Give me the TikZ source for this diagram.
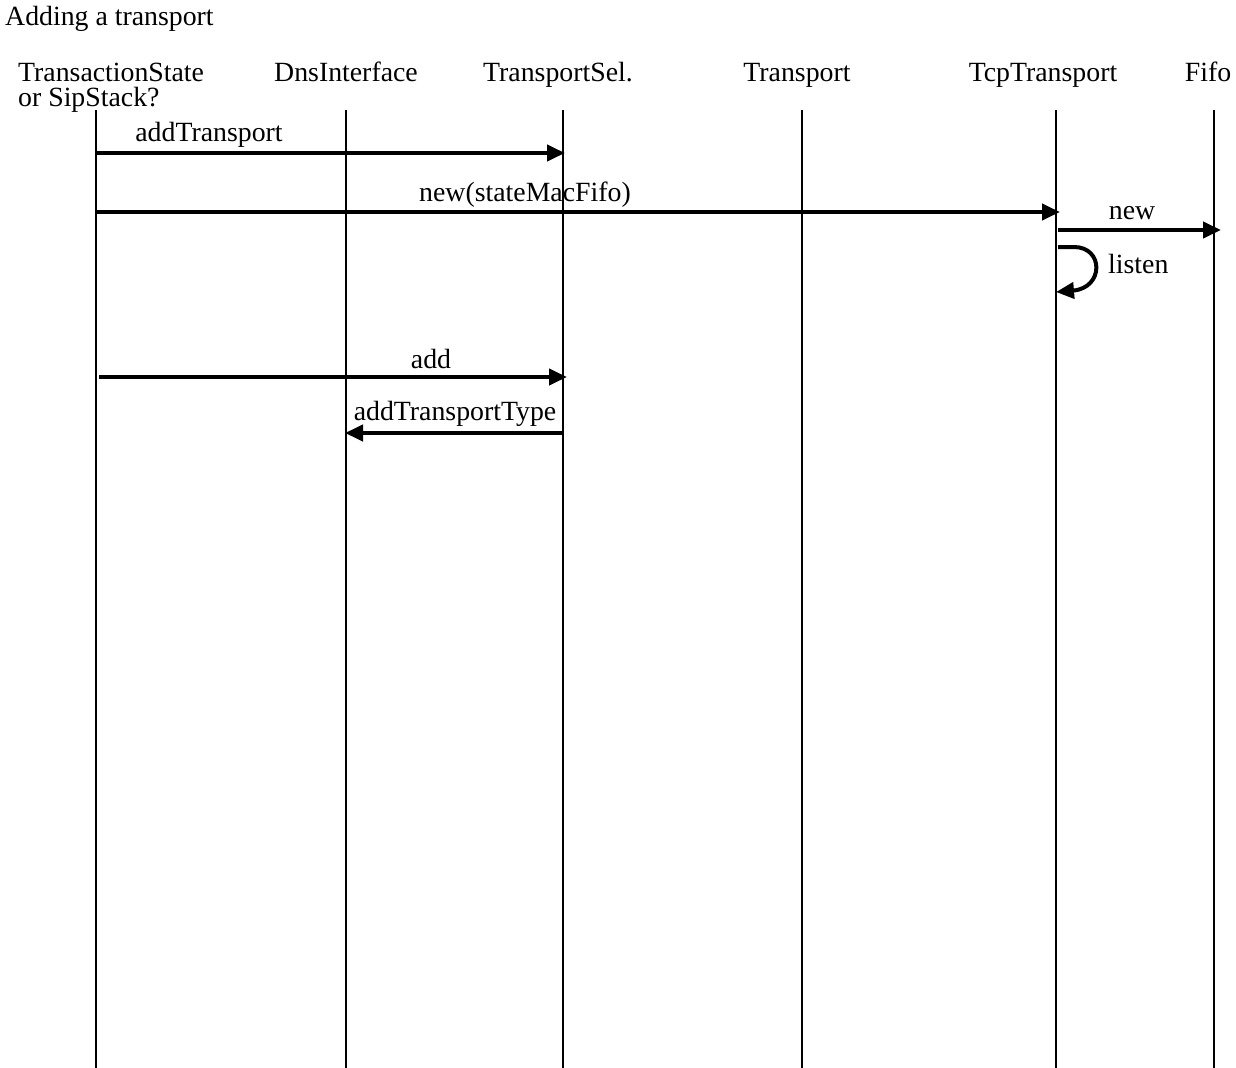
\documentclass[tikz,border=0pt]{standalone}
\usepackage{fontspec}
\setmainfont{Liberation Serif}
\usetikzlibrary{arrows.meta}
\tikzset{
  lifeline/.style={line width=1.5bp},
  msg/.style={line width=4bp,-{Triangle[length=18bp,width=16bp]}},
  lbl/.style={anchor=base,inner sep=0pt,font=\fontsize{27.8bp}{25bp}\selectfont},
}
\begin{document}
\begin{tikzpicture}[x=1bp,y=-1bp]
\useasboundingbox (0,0) rectangle (1236,1068);
% title
\node[lbl,anchor=base west] (title) at (5,25) {Adding a transport};
% headers
\node[lbl,anchor=base west,align=left] (h1) at (18,106) {TransactionState\\or SipStack?};
\node[lbl] (h2) at (346,81) {DnsInterface};
\node[lbl] (h3) at (558,81) {TransportSel.};
\node[lbl] (h4) at (797,81) {Transport};
\node[lbl] (h5) at (1043,81) {TcpTransport};
\node[lbl] (h6) at (1208,81) {Fifo};
% lifelines
\foreach \n/\x in {1/96,2/346,3/563,4/802,5/1056,6/1214}{
  \coordinate (t\n) at (\x,110);
  \coordinate (b\n) at (\x,1068);
  \draw[lifeline] (t\n) -- (b\n);
}
% message end points
\coordinate (m1s) at (96,153);  \coordinate (m1e) at (565,153);
\coordinate (m2s) at (96,212);  \coordinate (m2e) at (1060,212);
\coordinate (m3s) at (1058,230); \coordinate (m3e) at (1221,230);
\coordinate (m4s) at (1058,247); \coordinate (m4e) at (1056,292);
\coordinate (m5s) at (99,377);  \coordinate (m5e) at (567,377);
\coordinate (m6s) at (563,433); \coordinate (m6e) at (345,433);
% messages
\draw[msg] (m1s) -- (m1e);
\node[lbl] (l1) at (209,141) {addTransport};
\draw[msg] (m2s) -- (m2e);
\node[lbl] (l2) at (525,201) {new(stateMacFifo)};
\draw[msg] (m3s) -- (m3e);
\node[lbl] (l3) at (1132,219) {new};
\draw[msg] (m4s) -- (1074,247) .. controls (1104,247) and (1104,288) .. (m4e);
\node[lbl,anchor=base west] (l4) at (1108,273) {listen};
\draw[msg] (m5s) -- (m5e);
\node[lbl] (l5) at (431,368) {add};
\draw[msg] (m6s) -- (m6e);
\node[lbl] (l6) at (455,420) {addTransportType};
\end{tikzpicture}
\end{document}
